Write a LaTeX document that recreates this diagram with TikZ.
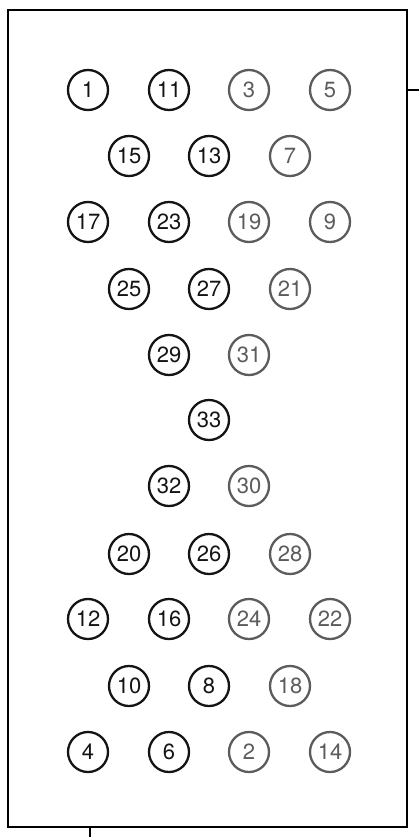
\documentclass[tikz,border=0pt]{standalone}
\usepackage{fontspec}
\setmainfont{TeX Gyre Heros}
\definecolor{darkc}{gray}{0.08}
\definecolor{lightc}{gray}{0.36}
\begin{document}
\begin{tikzpicture}[x=1pt,y=-1pt,
  pin/.style={circle,draw=darkc,text=darkc,line width=2.3pt,minimum size=40pt,inner sep=0pt,font=\fontsize{22}{22}\selectfont},
  pinl/.style={pin,draw=lightc,text=lightc},
  frame/.style={line width=2.8pt,draw=black},
  stub/.style={line width=1.6pt,draw=black}]
\useasboundingbox (0,0) rectangle (419,837);
\fill[white] (0,0) rectangle (419,837);
\draw[frame] (8,10) rectangle (407,827);
\coordinate (r1) at (407,90);
\coordinate (r2) at (419,90);
\coordinate (b1) at (90,827);
\coordinate (b2) at (90,837);
\draw[stub] (r1) -- (r2);
\draw[stub] (b1) -- (b2);
% columns: 88,129,169,209,249,290,330
\node[pin]  (p1)  at (88,90) {1};
\node[pin]  (p11) at (169,90) {11};
\node[pinl] (p3)  at (249,90) {3};
\node[pinl] (p5)  at (330,90) {5};
\node[pin]  (p15) at (129,156) {15};
\node[pin]  (p13) at (209,156) {13};
\node[pinl] (p7)  at (290,156) {7};
\node[pin]  (p17) at (88,222) {17};
\node[pin]  (p23) at (169,222) {23};
\node[pinl] (p19) at (249,222) {19};
\node[pinl] (p9)  at (330,222) {9};
\node[pin]  (p25) at (129,289) {25};
\node[pin]  (p27) at (209,289) {27};
\node[pinl] (p21) at (290,289) {21};
\node[pin]  (p29) at (169,355) {29};
\node[pinl] (p31) at (249,355) {31};
\node[pin]  (p33) at (209,420) {33};
\node[pin]  (p32) at (169,486) {32};
\node[pinl] (p30) at (249,486) {30};
\node[pin]  (p20) at (129,554) {20};
\node[pin]  (p26) at (209,554) {26};
\node[pinl] (p28) at (290,554) {28};
\node[pin]  (p12) at (88,619) {12};
\node[pin]  (p16) at (169,619) {16};
\node[pinl] (p24) at (249,619) {24};
\node[pinl] (p22) at (330,619) {22};
\node[pin]  (p10) at (129,686) {10};
\node[pin]  (p8)  at (209,686) {8};
\node[pinl] (p18) at (290,686) {18};
\node[pin]  (p4)  at (88,752) {4};
\node[pin]  (p6)  at (169,752) {6};
\node[pinl] (p2)  at (249,752) {2};
\node[pinl] (p14) at (330,752) {14};
\end{tikzpicture}
\end{document}
